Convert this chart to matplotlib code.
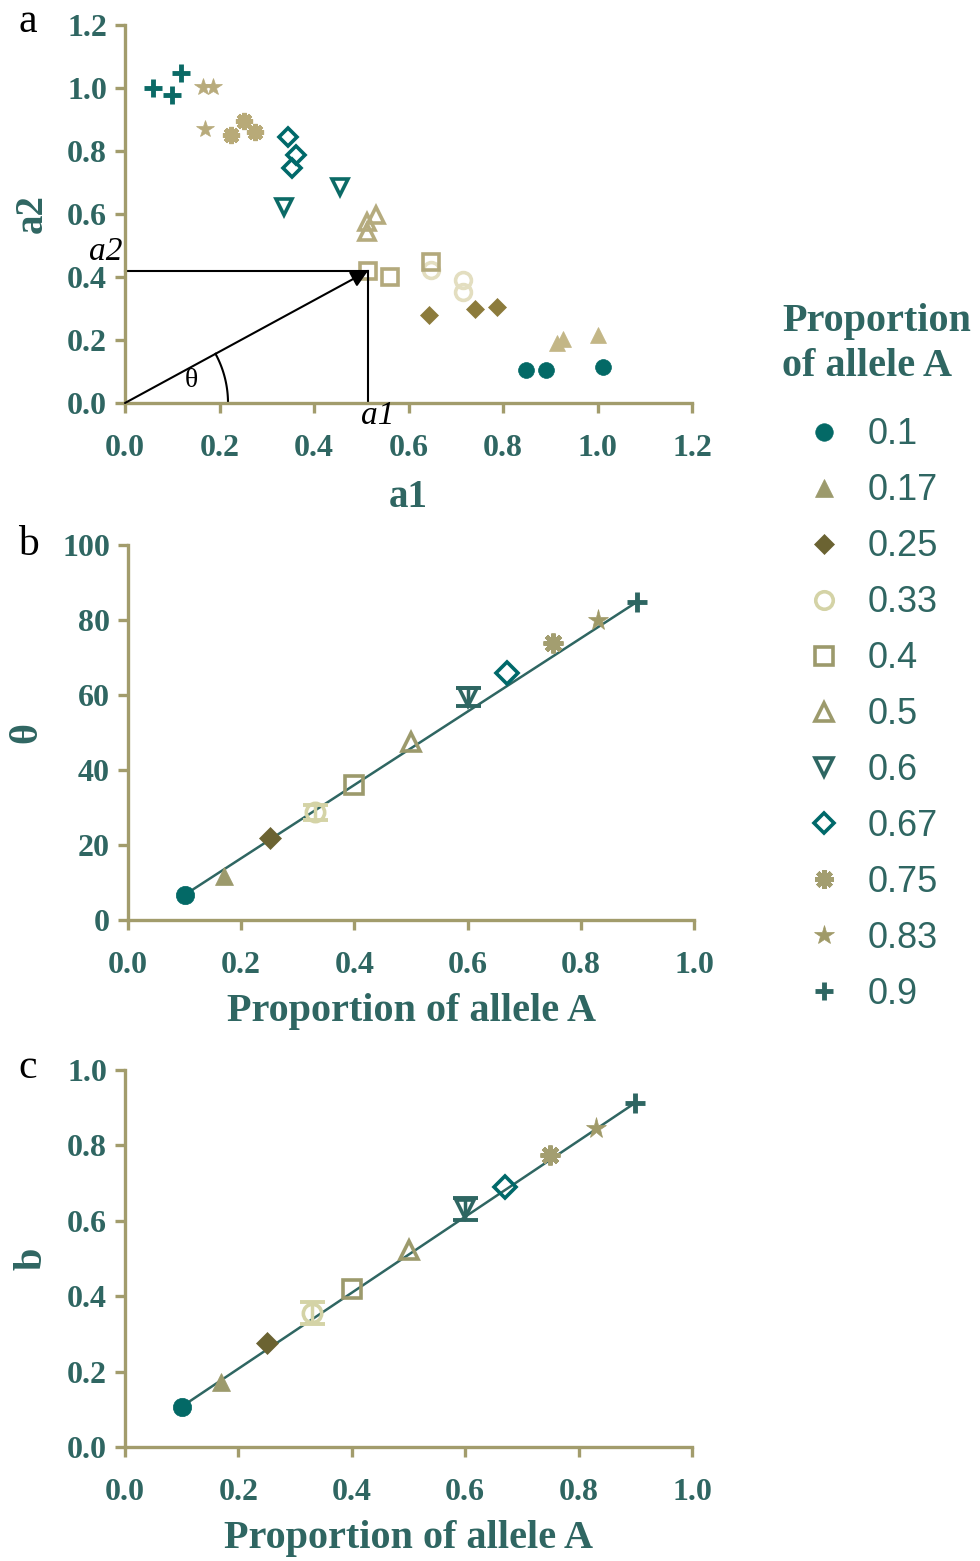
import numpy as np
import matplotlib
matplotlib.use("Agg")
import matplotlib.pyplot as plt
from matplotlib.lines import Line2D

# proportion of allele A (groups)
proportions = [0.1, 0.17, 0.25, 0.33, 0.4, 0.5, 0.6, 0.67, 0.75, 0.83, 0.9]
labels = ["0.1", "0.17", "0.25", "0.33", "0.4", "0.5", "0.6", "0.67", "0.75", "0.83", "0.9"]

# panel a: replicate (a1, a2) coordinates per group
a1_vals = [
    [0.849, 0.891, 1.012],
    [0.914, 0.927, 1.001],
    [0.643, 0.741, 0.787],
    [0.648, 0.715, 0.715],
    [0.514, 0.561, 0.648],
    [0.512, 0.531, 0.512],
    [0.336, 0.455],
    [0.345, 0.362, 0.353],
    [0.224, 0.252, 0.275],
    [0.165, 0.186, 0.169],
    [0.059, 0.100, 0.118],
]
a2_vals = [
    [0.105, 0.105, 0.114],
    [0.190, 0.203, 0.216],
    [0.279, 0.298, 0.305],
    [0.422, 0.390, 0.352],
    [0.419, 0.400, 0.448],
    [0.575, 0.597, 0.543],
    [0.622, 0.686],
    [0.844, 0.787, 0.746],
    [0.851, 0.895, 0.860],
    [1.003, 1.003, 0.870],
    [1.000, 0.978, 1.048],
]

# panel b: angle theta (degrees) mean and error
theta_mean = [6.7, 11.7, 21.9, 28.8, 36.0, 47.5, 59.5, 65.9, 74.0, 80.0, 84.9]
theta_err = [0, 0, 0, 2.0, 0, 0, 2.4, 0, 0, 0, 0]

# panel c: b mean and error
b_mean = [0.107, 0.172, 0.276, 0.355, 0.419, 0.523, 0.631, 0.690, 0.775, 0.846, 0.913]
b_err = [0, 0, 0, 0.03, 0, 0, 0.03, 0, 0, 0, 0]

TEAL = "#2f6662"
KHAKI = "#a29c6c"

markers = ["o", "^", "D", "o", "s", "^", "v", "D", (8, 2, 0), "*", "+"]
filled = [True, True, True, False, False, False, False, False, True, True, True]
colors = ["#036966", "#9c9a6c", "#6b6332", "#d4d3a6", "#9c9a6c", "#9c9a6c",
          "#2e6662", "#00696a", "#a39e70", "#a09a68", "#2e6662"]
colors_a = ["#036966", "#c3b686", "#8c7b3c", "#e3dec0", "#b3a97c", "#b5ab7e",
            "#0b6a66", "#00696a", "#b8aa78", "#b8ab7c", "#0b6a66"]
sizes = [12, 12, 10, 12, 12, 12, 12, 10, 13, 14, 13]

serif = "Liberation Serif"
sans = "Liberation Sans"


def style_axes(ax):
    for side in ("top", "right"):
        ax.spines[side].set_visible(False)
    for side in ("left", "bottom"):
        ax.spines[side].set_color(KHAKI)
        ax.spines[side].set_linewidth(2.4)
    ax.tick_params(color=KHAKI, width=2.4, length=7, labelcolor=TEAL)
    ax.tick_params(axis="x", pad=15)
    ax.tick_params(axis="y", pad=6)
    for lab in ax.get_xticklabels() + ax.get_yticklabels():
        lab.set_fontfamily(serif)
        lab.set_fontweight("bold")
        lab.set_fontsize(23)


def marker_kw(i, col, ms):
    kw = dict(marker=markers[i], markersize=ms, linestyle="none")
    if markers[i] == "+":
        kw.update(color=col, markeredgewidth=3.5)
    elif markers[i] == (8, 2, 0):
        kw.update(color=col, markeredgewidth=3.2)
    elif filled[i]:
        kw.update(color=col, markeredgecolor=col, markeredgewidth=0.5)
    else:
        kw.update(markerfacecolor="none", markeredgecolor=col, markeredgewidth=2.6)
    return kw


W, H = 980, 1561
fig = plt.figure(figsize=(W / 100, H / 100), dpi=100)

ax_a = fig.add_axes([125 / W, 1 - 403 / H, 567 / W, 378 / H])
ax_b = fig.add_axes([128 / W, 1 - 920 / H, 566 / W, 375 / H])
ax_c = fig.add_axes([125 / W, 1 - 1447 / H, 567 / W, 377 / H])

# ---- panel a ----
for i in range(len(proportions)):
    ax_a.plot(a1_vals[i], a2_vals[i], **marker_kw(i, colors_a[i], sizes[i] * 0.95))
ax_a.set_xlim(0, 1.2)
ax_a.set_ylim(0, 1.2)
ax_a.set_xticks(np.arange(0, 1.21, 0.2))
ax_a.set_yticks(np.arange(0, 1.21, 0.2))
ax_a.xaxis.set_major_formatter(plt.FormatStrFormatter("%.1f"))
ax_a.yaxis.set_major_formatter(plt.FormatStrFormatter("%.1f"))
ax_a.set_xlabel("a1", fontfamily=serif, fontweight="bold", fontsize=28, color=TEAL, labelpad=12)
ax_a.set_ylabel("a2", fontfamily=serif, fontweight="bold", fontsize=28, color=TEAL, labelpad=12)
style_axes(ax_a)

# vector illustration using the first 0.4 replicate
vx, vy = a1_vals[4][0], a2_vals[4][0]
ax_a.annotate("", xy=(vx, vy), xytext=(0, 0),
              arrowprops=dict(arrowstyle="-|>", color="black", lw=1.5, mutation_scale=25,
                              shrinkA=0, shrinkB=0))
ax_a.plot([0, vx], [vy, vy], color="black", lw=1.5, clip_on=False)
ax_a.plot([vx, vx], [0, vy], color="black", lw=1.5, clip_on=False)
px_x = 567 / 1.2
px_y = 378 / 1.2
ang = np.arctan2(vy * px_y, vx * px_x)
t = np.linspace(0, ang, 50)
r_px = 103
ax_a.plot(r_px * np.cos(t) / px_x, r_px * np.sin(t) / px_y, color="black", lw=1.5)
ax_a.text(0.14, 0.07, "θ", fontfamily=serif, fontsize=20, ha="center", va="center")
ax_a.text(-0.005, 0.48, "a2", fontfamily=serif, fontstyle="italic", fontsize=24,
          ha="right", va="center", clip_on=False)
ax_a.text(0.535, -0.04, "a1", fontfamily=serif, fontstyle="italic", fontsize=24,
          ha="center", va="center", clip_on=False)

# ---- panels b and c ----
for ax, ymean, yerr in ((ax_b, theta_mean, theta_err), (ax_c, b_mean, b_err)):
    ax.plot([proportions[0], proportions[-1]], [ymean[0], ymean[-1]],
            color=TEAL, lw=1.8, zorder=1)
    for i in range(len(proportions)):
        if yerr[i] > 0:
            ax.errorbar(proportions[i], ymean[i], yerr=yerr[i], fmt="none", ecolor=colors[i],
                        elinewidth=2.5, capsize=9, capthick=2.8, zorder=2)
        ax.plot(proportions[i], ymean[i], zorder=3, **marker_kw(i, colors[i], sizes[i] * 1.1))
    ax.set_xlim(0, 1.0)
    ax.set_xticks(np.arange(0, 1.01, 0.2))
    ax.xaxis.set_major_formatter(plt.FormatStrFormatter("%.1f"))
    ax.set_xlabel("Proportion of allele A", fontfamily=serif, fontweight="bold",
                  fontsize=29, color=TEAL, labelpad=10)

ax_b.set_ylim(0, 100)
ax_b.set_yticks(np.arange(0, 101, 20))
ax_b.set_ylabel("θ", fontfamily=serif, fontweight="bold", fontsize=29, color=TEAL, labelpad=12)
style_axes(ax_b)

ax_c.set_ylim(0, 1.0)
ax_c.set_yticks(np.arange(0, 1.01, 0.2))
ax_c.yaxis.set_major_formatter(plt.FormatStrFormatter("%.1f"))
ax_c.set_ylabel("b", fontfamily=serif, fontweight="bold", fontsize=29, color=TEAL, labelpad=12)
style_axes(ax_c)

# panel letters
for letter, ypx in (("a", 22), ("b", 545), ("c", 1068)):
    fig.text(18 / W, 1 - ypx / H, letter, fontfamily=serif, fontsize=30, va="center", ha="left")

# legend
handles = [Line2D([], [], **marker_kw(i, colors[i], sizes[i] * 1.05)) for i in range(len(labels))]
leg = fig.legend(handles, labels, loc="upper left", bbox_to_anchor=(782 / W, 1 - 303 / H),
                 frameon=False, borderpad=0, borderaxespad=0, handlelength=2.33,
                 handletextpad=0.05, labelspacing=0.58, numpoints=1,
                 title="Proportion\nof allele A", alignment="left",
                 prop=dict(family=sans, size=26), labelcolor=TEAL)
leg.get_title().set_fontfamily(serif)
leg.get_title().set_fontweight("bold")
leg.get_title().set_fontsize(29)
leg.get_title().set_color(TEAL)
leg.get_title().set_linespacing(1.3)
leg._legend_box.sep = 0.58 * 26 + 8

fig.savefig("out.png", dpi=100)
